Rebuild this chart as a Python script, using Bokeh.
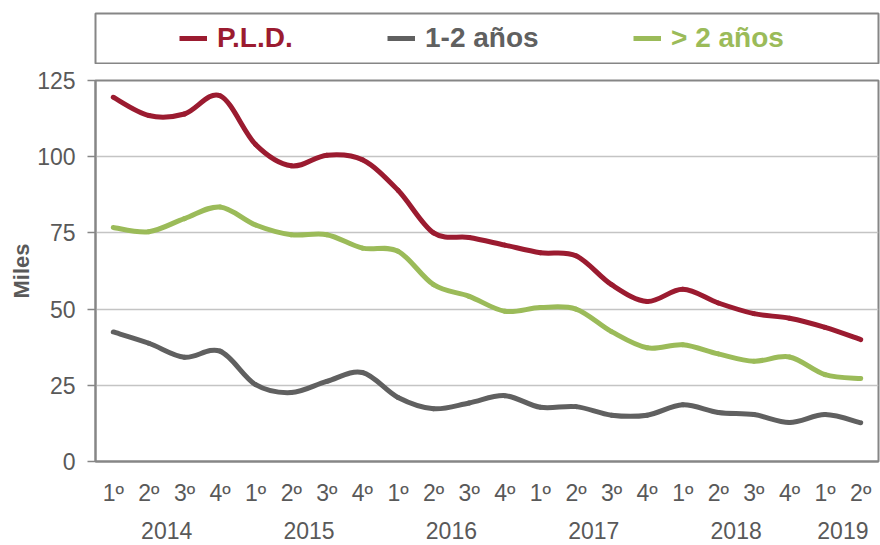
import numpy as np
from bokeh.plotting import figure
from bokeh.models import Range1d, LinearAxis, FixedTicker, Legend, LegendItem
from bokeh.layouts import column
from bokeh.embed import file_html
from bokeh.resources import INLINE

# ---------------- data ----------------
quarters = ["1º", "2º", "3º", "4º", "1º", "2º", "3º", "4º", "1º", "2º", "3º",
            "4º", "1º", "2º", "3º", "4º", "1º", "2º", "3º", "4º", "1º", "2º"]
years = ["2014"] * 4 + ["2015"] * 4 + ["2016"] * 4 + ["2017"] * 4 + ["2018"] * 4 + ["2019"] * 2
series_names = ["P.L.D.", "1-2 años", "> 2 años"]
pld = [119.5, 113.5, 114.0, 120.0, 104.0, 97.0, 100.5, 99.0, 89.0, 75.0, 73.5,
       71.0, 68.5, 67.5, 58.0, 52.5, 56.5, 52.0, 48.5, 47.0, 44.0, 40.0]
uno_dos = [42.5, 38.8, 34.2, 36.2, 25.2, 22.6, 26.3, 29.2, 21.0, 17.3, 19.2,
           21.6, 17.8, 18.0, 15.2, 15.2, 18.6, 16.1, 15.4, 12.8, 15.4, 12.7]
mas_dos = [76.8, 75.4, 79.7, 83.5, 77.6, 74.4, 74.4, 70.0, 69.0, 58.0, 54.2,
           49.3, 50.5, 50.0, 42.6, 37.3, 38.3, 35.3, 32.9, 34.3, 28.5, 27.2]
y_ticks = [0, 25, 50, 75, 100, 125]

colors = ["#9B1B30", "#606060", "#9BBB59"]
TXT = "#595959"
AX = "#868686"
GRID = "#C4C4C4"
FONT = "Liberation Sans"

n = len(quarters)
xc = np.arange(n) + 0.5                     # category centres
bounds = list(np.arange(1, n).astype(float))  # category boundaries

# year group centres
year_order = []
for yv in years:
    if yv not in year_order:
        year_order.append(yv)
year_centres = [float(np.mean([xc[i] for i in range(n) if years[i] == yv])) for yv in year_order]


def smooth(xs, ys):
    xs = np.asarray(xs, float)
    ys = np.asarray(ys, float)
    m = len(xs)
    xp = np.concatenate([[xs[0]], xs, [xs[-1]]])
    yp = np.concatenate([[ys[0]], ys, [ys[-1]]])
    return dict(
        x0=xs[:-1], y0=ys[:-1], x1=xs[1:], y1=ys[1:],
        cx0=xs[:-1] + (xp[2:m + 1] - xp[0:m - 1]) / 6.0,
        cy0=ys[:-1] + (yp[2:m + 1] - yp[0:m - 1]) / 6.0,
        cx1=xs[1:] - (xp[3:m + 2] - xp[1:m]) / 6.0,
        cy1=ys[1:] - (yp[3:m + 2] - yp[1:m]) / 6.0,
    )


# ---------------- legend figure ----------------
top = figure(width=880, height=64, output_backend="svg", toolbar_location=None,
             x_axis_type=None, y_axis_type=None,
             x_range=Range1d(0, 1), y_range=Range1d(-2, -1),
             min_border_left=90, min_border_right=2, min_border_top=13, min_border_bottom=1)
top.grid.visible = False
top.outline_line_color = AX
top.outline_line_width = 2

leg_x = [84, 292, 538]
for name, col, lx, vals in zip(series_names, colors, leg_x, [pld, uno_dos, mas_dos]):
    # same series, drawn outside the (empty) legend frame: only its legend swatch shows
    r = top.line(x=xc, y=vals, line_color=col, line_width=5)
    lg = Legend(items=[LegendItem(label=name, renderers=[r])],
                location=(lx, 9), orientation="horizontal",
                border_line_color=None, background_fill_alpha=0,
                padding=0, margin=0, glyph_width=28, glyph_height=20,
                label_standoff=10, label_text_font=FONT,
                label_text_font_size="28px", label_text_font_style="bold",
                label_text_color=col)
    top.add_layout(lg)

# ---------------- main chart ----------------
p = figure(width=880, height=481, output_backend="svg", toolbar_location=None,
           x_axis_type=None, x_range=Range1d(0, n), y_range=Range1d(0, 125),
           min_border_left=95, min_border_right=0, min_border_top=16, min_border_bottom=84)
p.outline_line_color = AX
p.outline_line_width = 2

# y axis
ya = p.yaxis[0]
ya.ticker = FixedTicker(ticks=y_ticks)
ya.minor_tick_line_color = None
ya.major_tick_out = 8
ya.major_tick_in = 0
ya.major_tick_line_color = AX
ya.major_tick_line_width = 1.5
ya.axis_line_color = AX
ya.axis_line_width = 2
ya.major_label_text_font = FONT
ya.major_label_text_font_size = "23px"
ya.major_label_text_color = TXT
ya.major_label_standoff = 12
ya.axis_label = "Miles"
ya.axis_label_text_font = FONT
ya.axis_label_text_font_size = "22px"
ya.axis_label_text_font_style = "bold"
ya.axis_label_text_color = TXT
ya.axis_label_standoff = 0

# quarter axis
qa = LinearAxis(ticker=FixedTicker(ticks=list(xc.astype(float))),
                major_label_overrides={float(v): q for v, q in zip(xc, quarters)},
                major_tick_out=0, major_tick_in=0, minor_tick_line_color=None,
                axis_line_color=AX, axis_line_width=2,
                major_label_text_font=FONT, major_label_text_font_size="23px",
                major_label_text_color=TXT, major_label_standoff=18)
p.add_layout(qa, "below")

# year axis
ya2 = LinearAxis(ticker=FixedTicker(ticks=year_centres),
                 major_label_overrides={c: yv for c, yv in zip(year_centres, year_order)},
                 major_tick_out=0, major_tick_in=0, minor_tick_line_color=None,
                 axis_line_color=None,
                 major_label_text_font=FONT, major_label_text_font_size="23px",
                 major_label_text_color=TXT, major_label_standoff=13)
p.add_layout(ya2, "below")

# grids
p.ygrid.ticker = FixedTicker(ticks=y_ticks)
p.ygrid.grid_line_color = GRID
p.ygrid.grid_line_width = 1.5
p.xgrid.ticker = FixedTicker(ticks=bounds)
p.xgrid.grid_line_color = GRID
p.xgrid.grid_line_width = 1.5

for vals, col in zip([pld, uno_dos, mas_dos], colors):
    p.bezier(line_color=col, line_width=5, line_cap="round", **smooth(xc, vals))

layout = column(top, p, spacing=0)
open("out.html", "w").write(file_html(layout, INLINE))
